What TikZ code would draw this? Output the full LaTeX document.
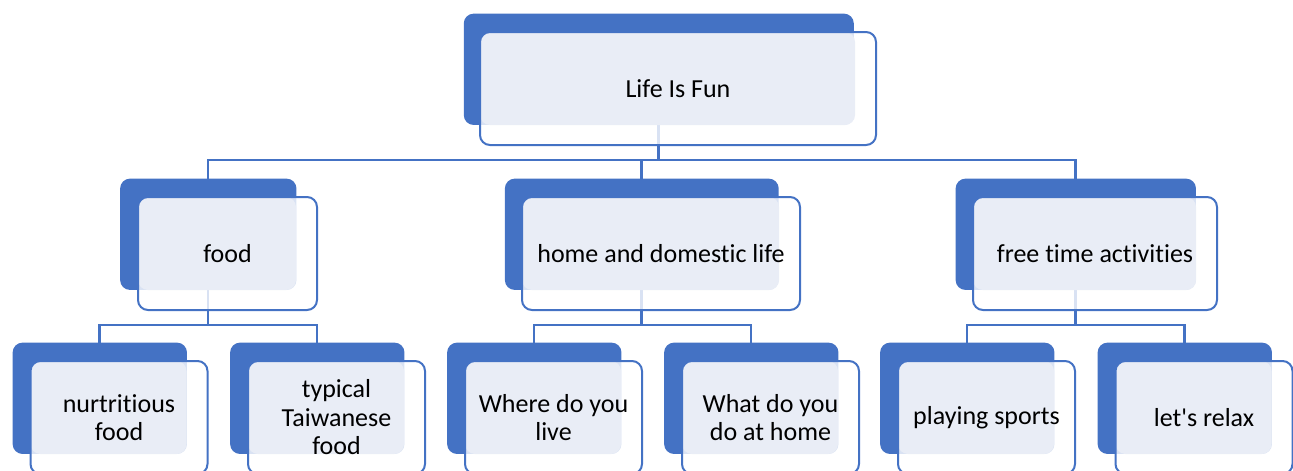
\documentclass[tikz,border=0pt]{standalone}
\usepackage{fontspec}
\setmainfont{Carlito}[Ligatures={NoCommon}]
\usetikzlibrary{shadows,backgrounds}
\definecolor{cardblue}{HTML}{4472C4}
\definecolor{cardlight}{HTML}{E9EDF6}

\begin{document}
\begin{tikzpicture}[
		x=1pt, y=-1pt, % one unit is one pixel of the layout
		card/.style={rectangle, draw=cardblue, line width=2pt, fill=white, fill opacity=0.8, text opacity=1, rounded corners=10pt, inner sep=0pt, align=center, minimum height=113pt, font=\fontsize{26}{28.5}\selectfont,
			general shadow={fill=cardblue, fill opacity=1, draw=none, shadow xshift=-19.5pt, shadow yshift=19.5pt, shadow scale=0.985},
			path picture={\fill[cardlight, fill opacity=1, rounded corners=10pt] (path picture bounding box.north west) rectangle ([shift={(-21pt,20pt)}]path picture bounding box.south east);}},
		topcard/.style={card, minimum width=396pt},
		leafcard/.style={card, minimum width=177pt},
		link/.style={draw=cardblue, line width=2.4pt}
		]
		
		\useasboundingbox (0,0) rectangle (1293,471);
		
		% Root
		\node[topcard] (root) at (678,88.5) {Life Is Fun};
		
		% Topics
		\node[card, minimum width=179pt] (food) at (227.5,253.5) {food};
		\node[card, minimum width=278pt] (home) at (661,253.5) {home and domestic life};
		\node[card, minimum width=244pt] (free) at (1095,253.5) {free time activities};
		
		% Questions
		\node[leafcard] (food-nutri) at (119,417.5) {nurtritious\\food};
		\node[leafcard] (food-taiwan) at (336.5,417.5) {typical\\Taiwanese\\food};
		\node[leafcard] (home-where) at (553.5,417.5) {Where do you\\live};
		\node[leafcard] (home-what) at (770.5,417.5) {What do you\\do at home};
		\node[leafcard] (free-sports) at (986.5,417.5) {playing sports};
		\node[leafcard] (free-relax) at (1204,417.5) {let\textquotesingle s relax};
		
		% Connectors, behind the cards
		\begin{scope}[on background layer]
			\draw[link] ([xshift=-19.5pt]root.center) -- ++(0,71.5) -| ([xshift=-19.5pt]food.center);
			\draw[link] ([xshift=-19.5pt]root.center) -- ++(0,71.5) -| ([xshift=-19.5pt]home.center);
			\draw[link] ([xshift=-19.5pt]root.center) -- ++(0,71.5) -| ([xshift=-19.5pt]free.center);
			\draw[link] ([xshift=-19.5pt]food.center) -- ++(0,71.5) -| ([xshift=-19.5pt]food-nutri.center);
			\draw[link] ([xshift=-19.5pt]food.center) -- ++(0,71.5) -| ([xshift=-19.5pt]food-taiwan.center);
			\draw[link] ([xshift=-19.5pt]home.center) -- ++(0,71.5) -| ([xshift=-19.5pt]home-where.center);
			\draw[link] ([xshift=-19.5pt]home.center) -- ++(0,71.5) -| ([xshift=-19.5pt]home-what.center);
			\draw[link] ([xshift=-19.5pt]free.center) -- ++(0,71.5) -| ([xshift=-19.5pt]free-sports.center);
			\draw[link] ([xshift=-19.5pt]free.center) -- ++(0,71.5) -| ([xshift=-19.5pt]free-relax.center);
		\end{scope}
	\end{tikzpicture}
\end{document}
